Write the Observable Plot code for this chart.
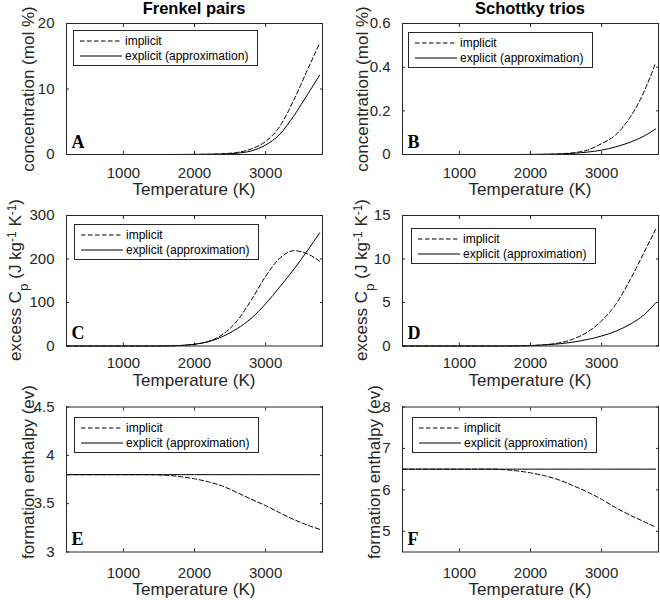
<!DOCTYPE html>
<html>
<head>
<meta charset="utf-8">
<script src="https://cdn.jsdelivr.net/npm/d3@7"></script>
<script src="https://cdn.jsdelivr.net/npm/@observablehq/plot@0.6"></script>
<style>
  body { margin: 0; background: #fff; }
  #fig { position: relative; width: 660px; height: 600px; overflow: hidden; background: #fff;
         font-family: "Liberation Sans", Arial, sans-serif; color: #262626; }
  .pl { position: absolute; overflow: visible; }
  .ttl { position: absolute; font-weight: bold; font-size: 16.5px; line-height: 1; white-space: nowrap;
         transform: translateX(-50%); color: #000; }
  .xl { position: absolute; font-size: 17px; line-height: 1; white-space: nowrap; transform: translateX(-50%); }
  .yl { position: absolute; font-size: 17px; line-height: 1; white-space: nowrap;
        transform: translate(-50%, -50%) rotate(-90deg); }
  .yl .sb { position: relative; top: 0.5em; font-size: 0.8em; }
  .yl .sp { position: relative; top: -0.45em; font-size: 0.7em; }
  .lg { position: absolute; box-sizing: border-box; width: 185px; height: 36px; border: 1px solid #262626;
        background: #fff; font-size: 12px; line-height: 1; color: #000; }
  .lg span { position: absolute; left: 51px; white-space: nowrap; }
  .lg svg { position: absolute; left: 6px; }
</style>
</head>
<body>
<div id="fig"></div>
<script>
// ---- data ----
const temperature = [200, 600, 1000, 1200, 1400, 1600, 1800, 2000, 2200, 2400, 2600, 2800, 3000, 3200, 3400, 3600, 3760];

const frenkelConcImplicit = [0, 0, 0, 0, 0, 0, 0.005, 0.02, 0.05, 0.12, 0.32, 0.85, 2.0, 4.3, 8.4, 13.2, 17.0];
const frenkelConcExplicit = [0, 0, 0, 0, 0, 0, 0.003, 0.01, 0.03, 0.07, 0.2, 0.55, 1.45, 3.1, 5.95, 9.35, 12.1];

const schottkyConcImplicit = [0, 0, 0, 0, 0, 0, 0, 0.0003, 0.001, 0.003, 0.008, 0.02, 0.05, 0.09, 0.17, 0.29, 0.42];
const schottkyConcExplicit = [0, 0, 0, 0, 0, 0, 0, 0.0003, 0.0008, 0.002, 0.0055, 0.011, 0.02, 0.035, 0.056, 0.085, 0.117];

const frenkelCpImplicit = [0, 0, 0, 0, 0, 0.2, 1.2, 4, 11, 27, 58, 106, 160, 202, 219, 211, 195];
const frenkelCpExplicit = [0, 0, 0, 0, 0, 0.2, 1.2, 4, 10, 22, 40, 64, 97, 136, 177, 222, 260];

const schottkyCpImplicit = [0, 0, 0, 0, 0, 0, 0.01, 0.05, 0.15, 0.35, 0.8, 1.6, 2.9, 4.8, 7.6, 10.8, 13.4];
const schottkyCpExplicit = [0, 0, 0, 0, 0, 0, 0.01, 0.05, 0.12, 0.25, 0.45, 0.75, 1.15, 1.7, 2.5, 3.6, 4.95];

const frenkelHImplicit = [3.8, 3.8, 3.8, 3.8, 3.799, 3.794, 3.78, 3.757, 3.725, 3.68, 3.615, 3.545, 3.48, 3.405, 3.335, 3.275, 3.235];
const frenkelHExplicit = [3.8, 3.8, 3.8, 3.8, 3.8, 3.8, 3.8, 3.8, 3.8, 3.8, 3.8, 3.8, 3.8, 3.8, 3.8, 3.8, 3.8];

const schottkyHImplicit = [6.5, 6.5, 6.5, 6.5, 6.5, 6.49, 6.46, 6.41, 6.34, 6.24, 6.1, 5.95, 5.77, 5.57, 5.39, 5.23, 5.1];
const schottkyHExplicit = [6.5, 6.5, 6.5, 6.5, 6.5, 6.5, 6.5, 6.5, 6.5, 6.5, 6.5, 6.5, 6.5, 6.5, 6.5, 6.5, 6.5];

const xDomain = [200, 3800];
const xTicks = [1000, 2000, 3000];
const columnTitles = ["Frenkel pairs", "Schottky trios"];
const seriesNames = ["implicit", "explicit (approximation)"];
const xLabel = "Temperature (K)";
const yLabelConc = "concentration (mol %)";
const yLabelCp = 'excess C<span class="sb">p</span> (J kg<span class="sp">-1</span> K<span class="sp">-1</span>)';
const yLabelH = "formation enthalpy (ev)";

// ---- layout ----
const colLeft = [0, 330], colML = [66, 72], colMR = [8, 2];
const rowTop = [0, 192, 392], rowH = [192, 200, 208], rowMT = [23, 23, 14.5], rowMB = [38, 46.5, 48.5];
const rowTickPad = [16, 14, 18];
const xLabelTop = [181, 371.5, 581];
const rowYLabelShift = [0, 0, -7];

const panels = [
  {id: "A", col: 0, row: 0, imp: frenkelConcImplicit, exp: frenkelConcExplicit, yDomain: [0, 20], yTicks: [0, 10, 20], ylabel: yLabelConc, ylx: 28, leg: [7, 7]},
  {id: "B", col: 1, row: 0, imp: schottkyConcImplicit, exp: schottkyConcExplicit, yDomain: [0, 0.6], yTicks: [0, 0.2, 0.4, 0.6], ylabel: yLabelConc, ylx: 362, leg: [6, 9]},
  {id: "C", col: 0, row: 1, imp: frenkelCpImplicit, exp: frenkelCpExplicit, yDomain: [0, 300], yTicks: [0, 100, 200, 300], ylabel: yLabelCp, ylx: 15, leg: [8, 9]},
  {id: "D", col: 1, row: 1, imp: schottkyCpImplicit, exp: schottkyCpExplicit, yDomain: [0, 15], yTicks: [0, 5, 10, 15], ylabel: yLabelCp, ylx: 361, leg: [9, 12.5]},
  {id: "E", col: 0, row: 2, imp: frenkelHImplicit, exp: frenkelHExplicit, yDomain: [3, 4.5], yTicks: [3, 3.5, 4, 4.5], ylabel: yLabelH, ylx: 28, leg: [8, 10.5]},
  {id: "F", col: 1, row: 2, imp: schottkyHImplicit, exp: schottkyHExplicit, yDomain: [4.5, 8], yTicks: [5, 6, 7, 8], ylabel: yLabelH, ylx: 374, leg: [10, 10]}
];

const fig = document.getElementById("fig");
const fmt = d => `${d}`;
const DASH = "4.5,2.5";

for (const p of panels) {
  const W = 330, H = rowH[p.row];
  const ml = colML[p.col], mr = colMR[p.col], mt = rowMT[p.row], mb = rowMB[p.row];
  const impRows = temperature.map((T, i) => ({T, v: p.imp[i]}));
  const expRows = temperature.map((T, i) => ({T, v: p.exp[i]}));

  const svg = Plot.plot({
    width: W, height: H,
    marginLeft: ml, marginRight: mr, marginTop: mt, marginBottom: mb,
    style: {fontFamily: '"Liberation Sans", Arial, sans-serif', fontSize: "15px", color: "#262626",
            background: "transparent", overflow: "visible"},
    x: {domain: xDomain},
    y: {domain: p.yDomain},
    marks: [
      Plot.axisX(xTicks, {anchor: "bottom", tickSize: -3, tickPadding: rowTickPad[p.row], tickFormat: fmt, label: null}),
      Plot.axisX(xTicks, {anchor: "top", tickSize: -3, tickFormat: () => "", label: null}),
      Plot.axisY(p.yTicks, {anchor: "left", tickSize: -3, tickPadding: 15, tickFormat: fmt, label: null}),
      Plot.axisY(p.yTicks, {anchor: "right", tickSize: -3, tickFormat: () => "", label: null}),
      Plot.line(impRows, {x: "T", y: "v", stroke: "#000", strokeWidth: 1, strokeDasharray: DASH, curve: "monotone-x"}),
      Plot.line(expRows, {x: "T", y: "v", stroke: "#000", strokeWidth: 1, curve: "monotone-x"}),
      Plot.frame({stroke: "#262626", strokeWidth: 1}),
      Plot.text([p.id], {text: d => d, frameAnchor: "bottom-left", textAnchor: "start", lineAnchor: "bottom",
                         dx: 5, dy: -7, fontFamily: '"Liberation Serif", "Times New Roman", serif',
                         fontWeight: "bold", fontSize: 18, fill: "#000"})
    ]
  });
  svg.classList.add("pl");
  svg.style.left = colLeft[p.col] + "px";
  svg.style.top = rowTop[p.row] + "px";
  fig.appendChild(svg);

  const frameLeft = colLeft[p.col] + ml;
  const frameRight = colLeft[p.col] + W - mr;
  const frameTop = rowTop[p.row] + mt;
  const frameBottom = rowTop[p.row] + H - mb;
  const cx = (frameLeft + frameRight) / 2;
  const cy = (frameTop + frameBottom) / 2;

  // x label
  const xl = document.createElement("div");
  xl.className = "xl";
  xl.style.left = cx + "px";
  xl.style.top = xLabelTop[p.row] + "px";
  xl.textContent = xLabel;
  fig.appendChild(xl);

  // y label
  const yl = document.createElement("div");
  yl.className = "yl";
  yl.style.left = p.ylx + "px";
  yl.style.top = (cy + rowYLabelShift[p.row]) + "px";
  yl.innerHTML = p.ylabel;
  fig.appendChild(yl);

  // legend
  const lg = document.createElement("div");
  lg.className = "lg";
  lg.style.left = (frameLeft + p.leg[0]) + "px";
  lg.style.top = (frameTop + p.leg[1]) + "px";
  lg.innerHTML =
    `<svg width="42" height="2" style="top:9px"><line x1="0" y1="1" x2="42" y2="1" stroke="#000" stroke-width="1" stroke-dasharray="${DASH}"/></svg>` +
    `<span style="top:4px">${seriesNames[0]}</span>` +
    `<svg width="42" height="2" style="top:24px"><line x1="0" y1="1" x2="42" y2="1" stroke="#000" stroke-width="1"/></svg>` +
    `<span style="top:19px">${seriesNames[1]}</span>`;
  fig.appendChild(lg);

  // column title
  if (p.row === 0) {
    const t = document.createElement("div");
    t.className = "ttl";
    t.style.left = cx + "px";
    t.style.top = "0px";
    t.textContent = columnTitles[p.col];
    fig.appendChild(t);
  }
}
</script>
</body>
</html>
